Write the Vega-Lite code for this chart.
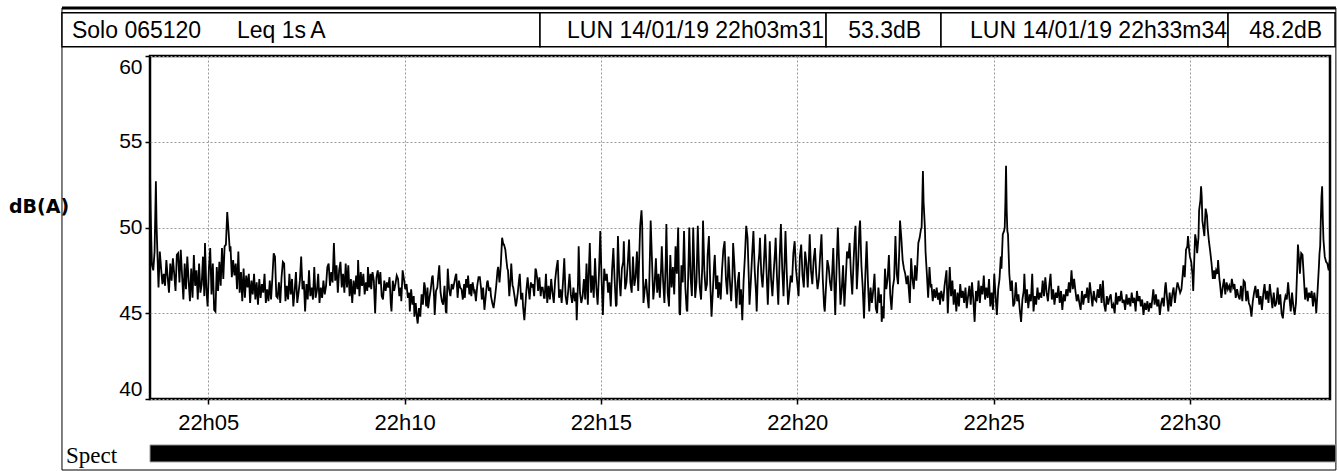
{
"$schema": "https://vega.github.io/schema/vega-lite/v6.json",
"width": 1180,
"height": 343,
"autosize": {"type": "none"},
"padding": {"left": 150, "top": 56, "right": 9, "bottom": 72},
"background": "white",
"config": {
  "font": "Liberation Sans",
  "view": {"stroke": "#000", "strokeWidth": 2.5},
  "axis": {"labelFont": "Liberation Sans", "labelColor": "#000", "domain": false}
},
"layer": [
  {"data": {"values": [{}]}, "mark": {"type": "rect", "fillOpacity": 0, "stroke": "#000", "strokeWidth": 1},
   "encoding": {"x": {"datum": 76.5}, "x2": {"datum": 2023}, "y": {"datum": 62.8}, "y2": {"datum": 35.86}}},
  {"data": {"values": [{}]}, "mark": {"type": "rule", "color": "#000", "strokeWidth": 3},
   "encoding": {"x": {"datum": 76.5}, "x2": {"datum": 2023}, "y": {"datum": 62.8}}},
  {"data": {"values": [{}]}, "mark": {"type": "rect", "fill": "white", "stroke": "#000", "strokeWidth": 1.5},
   "encoding": {"x": {"datum": 76.5}, "x2": {"datum": 806.9}, "y": {"datum": 62.52}, "y2": {"datum": 60.54}}},
  {"data": {"values": [{}]}, "mark": {"type": "rect", "fill": "white", "stroke": "#000", "strokeWidth": 1.5},
   "encoding": {"x": {"datum": 806.9}, "x2": {"datum": 1244}, "y": {"datum": 62.52}, "y2": {"datum": 60.54}}},
  {"data": {"values": [{}]}, "mark": {"type": "rect", "fill": "white", "stroke": "#000", "strokeWidth": 1.5},
   "encoding": {"x": {"datum": 1244}, "x2": {"datum": 1419.6}, "y": {"datum": 62.52}, "y2": {"datum": 60.54}}},
  {"data": {"values": [{}]}, "mark": {"type": "rect", "fill": "white", "stroke": "#000", "strokeWidth": 1.5},
   "encoding": {"x": {"datum": 1419.6}, "x2": {"datum": 1858.2}, "y": {"datum": 62.52}, "y2": {"datum": 60.54}}},
  {"data": {"values": [{}]}, "mark": {"type": "rect", "fill": "white", "stroke": "#000", "strokeWidth": 1.5},
   "encoding": {"x": {"datum": 1858.2}, "x2": {"datum": 2021.7}, "y": {"datum": 62.52}, "y2": {"datum": 60.54}}},
  {"data": {"values": [{"label": "Solo 065120"}]}, "mark": {"type": "text", "align": "left", "baseline": "alphabetic", "fontSize": 23, "color": "#000"},
   "encoding": {"x": {"datum": 91.8}, "y": {"datum": 61.03}, "text": {"field": "label"}}},
  {"data": {"values": [{"label": "Leq 1s"}]}, "mark": {"type": "text", "align": "left", "baseline": "alphabetic", "fontSize": 23, "color": "#000"},
   "encoding": {"x": {"datum": 343.9}, "y": {"datum": 61.03}, "text": {"field": "label"}}},
  {"data": {"values": [{"label": "A"}]}, "mark": {"type": "text", "align": "left", "baseline": "alphabetic", "fontSize": 23, "color": "#000"},
   "encoding": {"x": {"datum": 456}, "y": {"datum": 61.03}, "text": {"field": "label"}}},
  {"data": {"values": [{"label": "LUN 14/01/19 22h03m31"}]}, "mark": {"type": "text", "align": "right", "baseline": "alphabetic", "fontSize": 23, "color": "#000"},
   "encoding": {"x": {"datum": 1240.9}, "y": {"datum": 61.03}, "text": {"field": "label"}}},
  {"data": {"values": [{"label": "53.3"}]}, "mark": {"type": "text", "align": "right", "baseline": "alphabetic", "fontSize": 23, "color": "#000"},
   "encoding": {"x": {"datum": 1346.3}, "y": {"datum": 61.03}, "text": {"field": "label"}}},
  {"data": {"values": [{"label": "dB"}]}, "mark": {"type": "text", "align": "left", "baseline": "alphabetic", "fontSize": 23, "color": "#000"},
   "encoding": {"x": {"datum": 1346.3}, "y": {"datum": 61.03}, "text": {"field": "label"}}},
  {"data": {"values": [{"label": "LUN 14/01/19 22h33m34"}]}, "mark": {"type": "text", "align": "right", "baseline": "alphabetic", "fontSize": 23, "color": "#000"},
   "encoding": {"x": {"datum": 1856.7}, "y": {"datum": 61.03}, "text": {"field": "label"}}},
  {"data": {"values": [{"label": "48.2"}]}, "mark": {"type": "text", "align": "right", "baseline": "alphabetic", "fontSize": 23, "color": "#000"},
   "encoding": {"x": {"datum": 1959}, "y": {"datum": 61.03}, "text": {"field": "label"}}},
  {"data": {"values": [{"label": "dB"}]}, "mark": {"type": "text", "align": "left", "baseline": "alphabetic", "fontSize": 23, "color": "#000"},
   "encoding": {"x": {"datum": 1959}, "y": {"datum": 61.03}, "text": {"field": "label"}}},
  {"data": {"values": [{}]}, "mark": {"type": "rect", "fill": "#000", "stroke": "#999", "strokeWidth": 1},
   "encoding": {"x": {"datum": 211}, "x2": {"datum": 2023}, "y": {"datum": 37.32}, "y2": {"datum": 36.33}}},
  {"data": {"values": [{"label": "Spect"}]}, "mark": {"type": "text", "align": "left", "baseline": "alphabetic", "font": "Liberation Serif", "fontSize": 23, "color": "#000"},
   "encoding": {"x": {"datum": 82.6}, "y": {"datum": 36.27}, "text": {"field": "label"}}},
  {
   "data": {"values": [
{"sec":211,"leq":53.3},{"sec":212,"leq":51.0},{"sec":213,"leq":49.2},{"sec":214,"leq":47.8},{"sec":216,"leq":47.5},{"sec":218,"leq":48.6},{"sec":220,"leq":52.7},{"sec":221,"leq":50.2},{"sec":222,"leq":48.9},{"sec":224,"leq":46.5},{"sec":226,"leq":48.6},{"sec":228,"leq":47.6},{"sec":230,"leq":46.7},{"sec":232,"leq":47.3},{"sec":234,"leq":46.6},{"sec":236,"leq":48.1},{"sec":238,"leq":47.1},{"sec":240,"leq":46.2},{"sec":242,"leq":47.9},{"sec":244,"leq":46.9},{"sec":246,"leq":48.2},{"sec":248,"leq":47.3},{"sec":250,"leq":46.3},{"sec":252,"leq":48.4},{"sec":254,"leq":48.5},{"sec":256,"leq":46.8},{"sec":258,"leq":48.7},{"sec":260,"leq":47.2},{"sec":262,"leq":45.8},{"sec":264,"leq":47.9},{"sec":266,"leq":46.4},{"sec":268,"leq":48.3},{"sec":270,"leq":46.9},{"sec":272,"leq":45.7},{"sec":274,"leq":47.6},{"sec":276,"leq":45.9},{"sec":278,"leq":48.4},{"sec":280,"leq":46.6},{"sec":282,"leq":47.5},{"sec":284,"leq":45.8},{"sec":286,"leq":47.9},{"sec":288,"leq":46.2},{"sec":290,"leq":46.7},{"sec":292,"leq":48.3},{"sec":294,"leq":46.0},{"sec":295,"leq":49.1},{"sec":297,"leq":46.5},{"sec":299,"leq":45.4},{"sec":301,"leq":47.6},{"sec":303,"leq":48.8},{"sec":305,"leq":46.1},{"sec":307,"leq":47.9},{"sec":309,"leq":45.2},{"sec":311,"leq":45.1},{"sec":313,"leq":47.7},{"sec":315,"leq":46.3},{"sec":317,"leq":48.0},{"sec":319,"leq":46.6},{"sec":321,"leq":48.8},{"sec":323,"leq":47.0},{"sec":325,"leq":48.9},{"sec":327,"leq":49.0},{"sec":329,"leq":50.9},{"sec":331,"leq":49.8},{"sec":333,"leq":48.6},{"sec":334,"leq":48.9},{"sec":336,"leq":47.1},{"sec":338,"leq":48.1},{"sec":340,"leq":47.2},
{"sec":342,"leq":47.9},{"sec":344,"leq":46.4},{"sec":346,"leq":48.6},{"sec":348,"leq":46.2},{"sec":350,"leq":47.4},{"sec":352,"leq":45.7},{"sec":354,"leq":47.6},{"sec":356,"leq":45.9},{"sec":358,"leq":47.2},{"sec":360,"leq":46.5},{"sec":362,"leq":47.3},{"sec":364,"leq":45.6},{"sec":366,"leq":46.9},{"sec":368,"leq":46.1},{"sec":370,"leq":47.3},{"sec":372,"leq":45.8},{"sec":374,"leq":46.8},{"sec":376,"leq":45.5},{"sec":378,"leq":47.0},{"sec":380,"leq":45.9},{"sec":382,"leq":46.7},{"sec":384,"leq":46.2},{"sec":386,"leq":47.3},{"sec":388,"leq":45.6},{"sec":390,"leq":46.4},{"sec":392,"leq":45.7},{"sec":394,"leq":46.9},{"sec":396,"leq":45.8},{"sec":398,"leq":47.1},{"sec":400,"leq":48.5},{"sec":402,"leq":48.3},{"sec":404,"leq":46.0},{"sec":406,"leq":45.9},{"sec":408,"leq":46.8},{"sec":410,"leq":45.6},{"sec":412,"leq":47.1},{"sec":414,"leq":48.0},{"sec":416,"leq":47.9},{"sec":418,"leq":45.7},{"sec":420,"leq":46.6},{"sec":422,"leq":45.8},{"sec":424,"leq":47.3},{"sec":426,"leq":46.1},{"sec":428,"leq":47.0},{"sec":430,"leq":45.4},{"sec":432,"leq":46.3},{"sec":434,"leq":47.4},{"sec":436,"leq":45.6},{"sec":438,"leq":46.2},{"sec":440,"leq":46.9},{"sec":442,"leq":48.3},{"sec":444,"leq":46.4},{"sec":446,"leq":46.9},{"sec":448,"leq":45.1},{"sec":450,"leq":46.7},{"sec":452,"leq":45.8},{"sec":454,"leq":47.5},{"sec":456,"leq":46.0},{"sec":458,"leq":46.5},{"sec":460,"leq":45.8},{"sec":462,"leq":47.7},{"sec":464,"leq":45.9},{"sec":466,"leq":46.3},{"sec":468,"leq":47.3},{"sec":470,"leq":45.6},{"sec":472,"leq":46.5},{"sec":474,"leq":45.9},{"sec":476,"leq":46.9},{"sec":478,"leq":46.1},{"sec":480,"leq":46.6},{"sec":482,"leq":47.7},{"sec":484,"leq":47.9},{"sec":486,"leq":46.6},{"sec":488,"leq":47.4},{"sec":490,"leq":46.8},{"sec":492,"leq":49.1},{"sec":494,"leq":46.9},{"sec":496,"leq":47.8},{"sec":498,"leq":46.2},{"sec":500,"leq":47.5},{"sec":502,"leq":48.0},{"sec":504,"leq":46.5},{"sec":506,"leq":47.3},{"sec":508,"leq":46.2},{"sec":510,"leq":47.9},{"sec":512,"leq":46.5},{"sec":514,"leq":47.8},
{"sec":516,"leq":46.0},{"sec":518,"leq":47.0},{"sec":520,"leq":45.6},{"sec":522,"leq":46.9},{"sec":524,"leq":46.1},{"sec":526,"leq":47.2},{"sec":528,"leq":46.4},{"sec":529,"leq":48.1},{"sec":531,"leq":46.0},{"sec":533,"leq":47.4},{"sec":535,"leq":46.6},{"sec":537,"leq":47.3},{"sec":539,"leq":46.1},{"sec":541,"leq":46.8},{"sec":543,"leq":46.3},{"sec":544,"leq":47.7},{"sec":546,"leq":46.5},{"sec":548,"leq":47.3},{"sec":549,"leq":46.4},{"sec":551,"leq":47.4},{"sec":553,"leq":46.9},{"sec":555,"leq":45.0},{"sec":557,"leq":47.1},{"sec":559,"leq":47.5},{"sec":561,"leq":46.7},{"sec":563,"leq":47.4},{"sec":565,"leq":46.0},{"sec":567,"leq":45.8},{"sec":569,"leq":46.9},{"sec":571,"leq":46.3},{"sec":573,"leq":46.8},{"sec":575,"leq":46.5},{"sec":577,"leq":47.1},{"sec":579,"leq":45.5},{"sec":580,"leq":45.1},{"sec":582,"leq":46.9},{"sec":584,"leq":46.3},{"sec":586,"leq":46.7},{"sec":588,"leq":47.2},{"sec":590,"leq":47.0},{"sec":592,"leq":46.0},{"sec":594,"leq":46.5},{"sec":595,"leq":45.7},{"sec":597,"leq":47.5},{"sec":599,"leq":47.0},{"sec":601,"leq":46.4},{"sec":603,"leq":46.7},{"sec":605,"leq":45.9},{"sec":607,"leq":46.2},{"sec":608,"leq":45.1},{"sec":610,"leq":46.4},{"sec":612,"leq":45.5},{"sec":614,"leq":46.0},{"sec":615,"leq":44.8},{"sec":617,"leq":45.6},{"sec":619,"leq":44.7},{"sec":620,"leq":44.4},{"sec":622,"leq":45.3},{"sec":624,"leq":44.8},{"sec":626,"leq":46.1},{"sec":628,"leq":45.5},{"sec":630,"leq":46.8},{"sec":631,"leq":46.6},{"sec":633,"leq":45.4},{"sec":635,"leq":46.5},{"sec":636,"leq":45.3},{"sec":638,"leq":45.9},{"sec":640,"leq":46.4},{"sec":642,"leq":47.1},{"sec":643,"leq":47.2},{"sec":645,"leq":46.0},{"sec":646,"leq":44.9},{"sec":648,"leq":46.3},{"sec":650,"leq":46.5},{"sec":652,"leq":47.4},{"sec":653,"leq":47.8},{"sec":655,"leq":46.2},{"sec":657,"leq":45.7},{"sec":659,"leq":45.5},{"sec":661,"leq":46.6},{"sec":663,"leq":45.1},{"sec":664,"leq":45.0},{"sec":666,"leq":47.6},{"sec":668,"leq":46.4},{"sec":670,"leq":46.0},{"sec":672,"leq":46.7},{"sec":674,"leq":46.4},{"sec":676,"leq":46.8},{"sec":678,"leq":47.2},{"sec":679,"leq":47.3},{"sec":681,"leq":45.9},{"sec":683,"leq":46.9},{"sec":685,"leq":46.5},{"sec":687,"leq":46.4},{"sec":689,"leq":45.8},{"sec":691,"leq":46.7},{"sec":692,"leq":45.9},{"sec":694,"leq":47.0},{"sec":696,"leq":46.5},{"sec":697,"leq":47.2},{"sec":699,"leq":46.1},{"sec":701,"leq":46.7},{"sec":702,"leq":46.0},{"sec":704,"leq":46.8},{"sec":706,"leq":46.3},{"sec":707,"leq":46.4},{"sec":709,"leq":45.7},{"sec":711,"leq":46.6},{"sec":713,"leq":47.1},{"sec":715,"leq":47.1},{"sec":717,"leq":46.4},{"sec":718,"leq":45.8},{"sec":720,"leq":46.5},{"sec":722,"leq":45.2},{"sec":724,"leq":46.0},{"sec":726,"leq":46.8},{"sec":727,"leq":46.9},{"sec":729,"leq":46.3},{"sec":731,"leq":46.5},{"sec":732,"leq":46.0},{"sec":734,"leq":45.6},{"sec":736,"leq":45.3},{"sec":738,"leq":45.9},{"sec":740,"leq":46.6},{"sec":742,"leq":47.5},{"sec":743,"leq":47.7},{"sec":745,"leq":46.8},{"sec":747,"leq":47.8},{"sec":749,"leq":49.4},{"sec":751,"leq":49.0},{"sec":752,"leq":49.0},{"sec":754,"leq":48.7},{"sec":755,"leq":48.3},{"sec":757,"leq":47.6},{"sec":758,"leq":47.5},{"sec":760,"leq":46.0},{"sec":762,"leq":47.1},{"sec":763,"leq":47.9},{"sec":765,"leq":46.6},{"sec":766,"leq":46.5},{"sec":768,"leq":46.0},{"sec":770,"leq":45.4},{"sec":771,"leq":45.6},{"sec":773,"leq":46.2},{"sec":775,"leq":47.0},{"sec":776,"leq":47.3},{"sec":778,"leq":45.8},{"sec":780,"leq":46.2},{"sec":781,"leq":45.4},{"sec":783,"leq":44.6},{"sec":785,"leq":45.7},{"sec":786,"leq":46.3},{"sec":788,"leq":47.1},{"sec":790,"leq":46.2},{"sec":791,"leq":45.8},{"sec":793,"leq":46.8},{"sec":794,"leq":46.5},{"sec":796,"leq":46.7},{"sec":798,"leq":46.0},{"sec":800,"leq":47.6},{"sec":801,"leq":47.5},{"sec":803,"leq":46.9},{"sec":804,"leq":46.3},{"sec":806,"leq":47.1},{"sec":808,"leq":46.0},{"sec":809,"leq":46.5},{"sec":811,"leq":46.5},{"sec":813,"leq":45.9},{"sec":814,"leq":45.9},{"sec":816,"leq":47.3},{"sec":818,"leq":45.6},
{"sec":820,"leq":46.6},{"sec":822,"leq":45.8},{"sec":824,"leq":47.0},{"sec":826,"leq":46.2},{"sec":828,"leq":45.6},{"sec":830,"leq":46.9},{"sec":832,"leq":47.6},{"sec":834,"leq":48.1},{"sec":836,"leq":45.9},{"sec":838,"leq":46.4},{"sec":840,"leq":45.6},{"sec":842,"leq":46.8},{"sec":844,"leq":48.2},{"sec":846,"leq":46.0},{"sec":848,"leq":45.5},{"sec":850,"leq":46.3},{"sec":852,"leq":47.3},{"sec":854,"leq":46.1},{"sec":856,"leq":45.6},{"sec":858,"leq":46.5},{"sec":860,"leq":45.7},{"sec":862,"leq":46.2},{"sec":863,"leq":44.6},{"sec":865,"leq":46.8},{"sec":866,"leq":48.9},{"sec":868,"leq":46.2},{"sec":870,"leq":45.6},{"sec":872,"leq":46.0},{"sec":874,"leq":47.0},{"sec":876,"leq":45.8},{"sec":878,"leq":47.9},{"sec":880,"leq":45.5},{"sec":882,"leq":48.0},{"sec":883,"leq":49.1},{"sec":885,"leq":46.2},{"sec":887,"leq":47.2},{"sec":889,"leq":45.9},{"sec":891,"leq":48.2},{"sec":893,"leq":46.5},{"sec":895,"leq":45.5},{"sec":897,"leq":47.3},{"sec":899,"leq":49.8},{"sec":901,"leq":47.0},{"sec":903,"leq":44.9},{"sec":905,"leq":47.6},{"sec":907,"leq":46.9},{"sec":909,"leq":47.3},{"sec":911,"leq":46.2},{"sec":913,"leq":46.8},{"sec":915,"leq":45.4},{"sec":917,"leq":47.5},{"sec":919,"leq":48.8},{"sec":921,"leq":46.9},{"sec":923,"leq":45.4},{"sec":924,"leq":45.5},{"sec":926,"leq":49.5},{"sec":928,"leq":47.1},{"sec":930,"leq":46.0},{"sec":932,"leq":47.6},{"sec":934,"leq":48.0},{"sec":935,"leq":49.2},{"sec":937,"leq":46.4},{"sec":939,"leq":46.8},{"sec":941,"leq":47.9},{"sec":943,"leq":49.3},{"sec":945,"leq":46.8},{"sec":947,"leq":46.2},{"sec":949,"leq":48.3},{"sec":951,"leq":46.6},{"sec":953,"leq":47.1},{"sec":955,"leq":48.6},{"sec":957,"leq":46.3},{"sec":958,"leq":47.6},{"sec":960,"leq":50.1},{"sec":962,"leq":51.0},{"sec":963,"leq":50.2},{"sec":965,"leq":45.6},{"sec":967,"leq":46.4},{"sec":969,"leq":47.0},{"sec":971,"leq":46.0},{"sec":973,"leq":45.3},{"sec":975,"leq":48.6},{"sec":976,"leq":50.4},{"sec":978,"leq":48.1},{"sec":980,"leq":45.8},{"sec":982,"leq":46.7},{"sec":984,"leq":48.2},{"sec":986,"leq":46.2},{"sec":988,"leq":47.3},{"sec":990,"leq":45.9},{"sec":992,"leq":47.7},{"sec":993,"leq":48.9},{"sec":995,"leq":46.9},{"sec":997,"leq":45.6},{"sec":999,"leq":48.0},{"sec":1000,"leq":50.2},{"sec":1002,"leq":46.2},{"sec":1004,"leq":45.4},{"sec":1006,"leq":48.4},{"sec":1008,"leq":46.5},{"sec":1010,"leq":47.7},{"sec":1012,"leq":46.1},{"sec":1014,"leq":48.9},{"sec":1016,"leq":47.3},{"sec":1018,"leq":50.0},{"sec":1020,"leq":45.0},{"sec":1021,"leq":44.9},{"sec":1023,"leq":47.8},{"sec":1025,"leq":46.8},{"sec":1027,"leq":49.8},{"sec":1029,"leq":46.5},{"sec":1031,"leq":45.2},{"sec":1032,"leq":45.1},{"sec":1034,"leq":48.2},{"sec":1035,"leq":50.0},{"sec":1037,"leq":47.1},{"sec":1039,"leq":46.0},{"sec":1041,"leq":50.0},{"sec":1043,"leq":47.2},{"sec":1044,"leq":45.9},{"sec":1046,"leq":46.8},{"sec":1048,"leq":50.1},{"sec":1050,"leq":47.4},{"sec":1051,"leq":46.5},{"sec":1053,"leq":45.8},{"sec":1055,"leq":47.9},{"sec":1056,"leq":50.4},{"sec":1058,"leq":47.5},{"sec":1060,"leq":46.3},{"sec":1062,"leq":46.7},{"sec":1063,"leq":48.4},{"sec":1065,"leq":49.5},{"sec":1067,"leq":46.8},{"sec":1069,"leq":44.8},{"sec":1071,"leq":46.3},{"sec":1073,"leq":47.9},{"sec":1074,"leq":48.4},{"sec":1076,"leq":46.4},{"sec":1078,"leq":47.2},{"sec":1079,"leq":45.9},{"sec":1081,"leq":46.8},{"sec":1083,"leq":45.8},{"sec":1085,"leq":47.5},{"sec":1087,"leq":48.7},{"sec":1089,"leq":49.2},{"sec":1091,"leq":47.0},{"sec":1093,"leq":46.1},{"sec":1095,"leq":48.3},{"sec":1097,"leq":46.9},{"sec":1099,"leq":45.7},{"sec":1101,"leq":47.2},{"sec":1102,"leq":49.1},{"sec":1104,"leq":47.8},{"sec":1106,"leq":46.0},{"sec":1107,"leq":45.3},{"sec":1109,"leq":46.8},{"sec":1111,"leq":47.4},{"sec":1112,"leq":45.5},{"sec":1114,"leq":46.4},{"sec":1116,"leq":44.6},{"sec":1118,"leq":46.9},{"sec":1120,"leq":48.3},{"sec":1122,"leq":50.1},{"sec":1124,"leq":49.4},
{"sec":1126,"leq":47.0},{"sec":1127,"leq":45.5},{"sec":1129,"leq":46.8},{"sec":1131,"leq":48.4},{"sec":1133,"leq":49.8},{"sec":1135,"leq":47.5},{"sec":1137,"leq":46.2},{"sec":1138,"leq":45.1},{"sec":1140,"leq":47.6},{"sec":1142,"leq":48.5},{"sec":1143,"leq":49.4},{"sec":1145,"leq":47.3},{"sec":1147,"leq":46.5},{"sec":1149,"leq":47.9},{"sec":1151,"leq":49.6},{"sec":1153,"leq":47.5},{"sec":1155,"leq":45.5},{"sec":1157,"leq":47.8},{"sec":1158,"leq":49.2},{"sec":1160,"leq":47.0},{"sec":1162,"leq":46.0},{"sec":1164,"leq":47.4},{"sec":1166,"leq":48.6},{"sec":1167,"leq":49.4},{"sec":1169,"leq":47.1},{"sec":1171,"leq":45.5},{"sec":1173,"leq":48.1},{"sec":1175,"leq":50.2},{"sec":1177,"leq":47.6},{"sec":1179,"leq":46.0},{"sec":1181,"leq":48.5},{"sec":1182,"leq":49.8},{"sec":1184,"leq":47.3},{"sec":1186,"leq":45.5},{"sec":1188,"leq":46.3},{"sec":1190,"leq":47.2},{"sec":1192,"leq":46.8},{"sec":1194,"leq":48.5},{"sec":1196,"leq":49.2},{"sec":1198,"leq":47.6},{"sec":1200,"leq":46.8},{"sec":1202,"leq":46.0},{"sec":1204,"leq":48.3},{"sec":1206,"leq":49.0},{"sec":1208,"leq":47.2},{"sec":1210,"leq":46.5},{"sec":1212,"leq":48.6},{"sec":1214,"leq":47.9},{"sec":1216,"leq":46.5},{"sec":1218,"leq":48.4},{"sec":1219,"leq":49.6},{"sec":1221,"leq":47.5},{"sec":1223,"leq":46.7},{"sec":1225,"leq":48.1},{"sec":1227,"leq":48.8},{"sec":1229,"leq":47.3},{"sec":1231,"leq":46.4},{"sec":1233,"leq":47.0},{"sec":1235,"leq":48.4},{"sec":1237,"leq":49.6},{"sec":1239,"leq":47.0},{"sec":1241,"leq":45.4},{"sec":1242,"leq":45.1},{"sec":1244,"leq":46.6},{"sec":1246,"leq":48.1},{"sec":1248,"leq":47.7},{"sec":1250,"leq":46.8},{"sec":1252,"leq":46.3},{"sec":1254,"leq":47.9},{"sec":1255,"leq":48.8},{"sec":1257,"leq":46.2},{"sec":1258,"leq":44.9},{"sec":1260,"leq":47.6},{"sec":1262,"leq":50.0},{"sec":1264,"leq":47.8},{"sec":1266,"leq":45.5},{"sec":1268,"leq":46.4},{"sec":1270,"leq":47.8},{"sec":1272,"leq":45.4},{"sec":1274,"leq":46.9},{"sec":1276,"leq":48.6},{"sec":1278,"leq":48.2},{"sec":1280,"leq":49.1},{"sec":1282,"leq":47.3},{"sec":1284,"leq":46.1},{"sec":1286,"leq":48.0},{"sec":1288,"leq":49.6},{"sec":1289,"leq":50.1},{"sec":1291,"leq":46.4},{"sec":1293,"leq":47.9},{"sec":1295,"leq":50.0},{"sec":1296,"leq":50.4},{"sec":1298,"leq":47.8},{"sec":1300,"leq":46.5},{"sec":1302,"leq":44.7},{"sec":1304,"leq":47.2},{"sec":1306,"leq":49.2},{"sec":1308,"leq":46.8},{"sec":1310,"leq":45.1},{"sec":1312,"leq":46.5},{"sec":1314,"leq":45.6},{"sec":1316,"leq":46.3},{"sec":1318,"leq":47.3},{"sec":1320,"leq":45.3},{"sec":1322,"leq":45.0},{"sec":1324,"leq":46.5},{"sec":1326,"leq":45.6},{"sec":1328,"leq":46.1},{"sec":1329,"leq":44.5},{"sec":1331,"leq":45.4},{"sec":1332,"leq":44.7},{"sec":1334,"leq":47.6},{"sec":1336,"leq":46.4},{"sec":1338,"leq":47.0},{"sec":1340,"leq":48.4},{"sec":1342,"leq":46.1},{"sec":1344,"leq":45.2},{"sec":1346,"leq":46.5},{"sec":1348,"leq":47.0},{"sec":1350,"leq":49.5},{"sec":1352,"leq":47.3},{"sec":1354,"leq":46.7},{"sec":1356,"leq":48.8},{"sec":1357,"leq":50.4},{"sec":1359,"leq":49.4},{"sec":1361,"leq":48.1},{"sec":1363,"leq":47.6},{"sec":1365,"leq":47.3},{"sec":1367,"leq":46.7},{"sec":1369,"leq":47.2},{"sec":1370,"leq":46.6},{"sec":1372,"leq":45.6},{"sec":1374,"leq":48.2},{"sec":1376,"leq":47.0},{"sec":1378,"leq":46.4},{"sec":1380,"leq":47.8},{"sec":1382,"leq":46.9},{"sec":1383,"leq":47.5},{"sec":1385,"leq":49.1},{"sec":1387,"leq":49.4},{"sec":1389,"leq":49.9},{"sec":1390,"leq":50.0},{"sec":1391,"leq":51.5},{"sec":1392,"leq":53.3},{"sec":1393,"leq":51.5},{"sec":1395,"leq":50.0},{"sec":1396,"leq":48.6},{"sec":1398,"leq":47.3},{"sec":1400,"leq":45.9},{"sec":1402,"leq":47.7},{"sec":1404,"leq":46.5},{"sec":1405,"leq":46.7},{"sec":1407,"leq":45.7},{"sec":1409,"leq":46.4},{"sec":1411,"leq":45.9},{"sec":1413,"leq":46.5},{"sec":1415,"leq":45.8},{"sec":1417,"leq":46.2},{"sec":1418,"leq":45.5},{"sec":1420,"leq":46.3},{"sec":1422,"leq":45.9},{"sec":1423,"leq":45.7},{"sec":1425,"leq":46.6},{"sec":1427,"leq":47.2},{"sec":1428,"leq":47.5},{"sec":1430,"leq":45.0},
{"sec":1433,"leq":47.7},{"sec":1435,"leq":46.0},{"sec":1437,"leq":46.9},{"sec":1439,"leq":45.5},{"sec":1441,"leq":46.4},{"sec":1443,"leq":45.1},{"sec":1445,"leq":46.2},{"sec":1447,"leq":45.4},{"sec":1449,"leq":46.7},{"sec":1451,"leq":45.9},{"sec":1453,"leq":46.3},{"sec":1455,"leq":45.6},{"sec":1457,"leq":46.5},{"sec":1459,"leq":45.3},{"sec":1461,"leq":46.0},{"sec":1463,"leq":46.6},{"sec":1465,"leq":45.5},{"sec":1467,"leq":46.8},{"sec":1469,"leq":45.8},{"sec":1471,"leq":44.5},{"sec":1473,"leq":46.3},{"sec":1475,"leq":45.7},{"sec":1477,"leq":46.9},{"sec":1479,"leq":45.6},{"sec":1481,"leq":46.6},{"sec":1483,"leq":46.1},{"sec":1485,"leq":47.2},{"sec":1487,"leq":45.8},{"sec":1489,"leq":46.5},{"sec":1491,"leq":45.9},{"sec":1493,"leq":47.0},{"sec":1495,"leq":45.4},{"sec":1497,"leq":46.2},{"sec":1499,"leq":45.2},{"sec":1501,"leq":47.3},{"sec":1503,"leq":46.0},{"sec":1505,"leq":44.9},{"sec":1507,"leq":46.4},{"sec":1509,"leq":47.0},{"sec":1511,"leq":48.3},{"sec":1512,"leq":47.6},{"sec":1514,"leq":49.6},{"sec":1516,"leq":49.8},{"sec":1517,"leq":50.0},{"sec":1518,"leq":51.5},{"sec":1519,"leq":53.6},{"sec":1520,"leq":51.0},{"sec":1521,"leq":49.8},{"sec":1522,"leq":49.6},{"sec":1524,"leq":47.3},{"sec":1526,"leq":46.3},{"sec":1528,"leq":46.9},{"sec":1530,"leq":45.4},{"sec":1532,"leq":45.6},{"sec":1534,"leq":46.8},{"sec":1536,"leq":45.7},{"sec":1538,"leq":46.1},{"sec":1540,"leq":45.2},{"sec":1542,"leq":44.5},{"sec":1544,"leq":45.8},{"sec":1546,"leq":46.3},{"sec":1547,"leq":47.3},{"sec":1549,"leq":45.6},{"sec":1551,"leq":46.4},{"sec":1553,"leq":45.3},{"sec":1555,"leq":46.1},{"sec":1557,"leq":45.7},{"sec":1559,"leq":47.3},{"sec":1561,"leq":45.1},{"sec":1563,"leq":46.0},{"sec":1565,"leq":45.5},{"sec":1567,"leq":46.5},{"sec":1569,"leq":45.8},{"sec":1571,"leq":46.2},{"sec":1573,"leq":45.9},{"sec":1575,"leq":46.9},{"sec":1577,"leq":46.0},{"sec":1579,"leq":47.1},{"sec":1581,"leq":46.2},{"sec":1583,"leq":45.7},{"sec":1585,"leq":46.6},{"sec":1587,"leq":47.3},{"sec":1589,"leq":45.8},{"sec":1591,"leq":46.4},{"sec":1593,"leq":45.5},{"sec":1595,"leq":46.2},{"sec":1597,"leq":45.9},{"sec":1599,"leq":46.6},{"sec":1601,"leq":45.6},{"sec":1603,"leq":46.3},{"sec":1605,"leq":45.2},{"sec":1607,"leq":46.1},{"sec":1609,"leq":45.7},{"sec":1611,"leq":46.4},{"sec":1613,"leq":46.0},{"sec":1615,"leq":46.8},{"sec":1617,"leq":46.2},{"sec":1619,"leq":47.5},{"sec":1621,"leq":46.4},{"sec":1623,"leq":47.0},{"sec":1625,"leq":46.3},{"sec":1627,"leq":45.7},{"sec":1629,"leq":46.1},{"sec":1631,"leq":45.6},{"sec":1633,"leq":45.2},{"sec":1635,"leq":46.3},{"sec":1637,"leq":45.5},{"sec":1639,"leq":46.1},{"sec":1641,"leq":45.9},{"sec":1643,"leq":46.5},{"sec":1645,"leq":45.6},{"sec":1647,"leq":46.8},{"sec":1649,"leq":46.1},{"sec":1651,"leq":45.4},{"sec":1653,"leq":46.3},{"sec":1655,"leq":45.8},{"sec":1657,"leq":45.7},{"sec":1659,"leq":46.4},{"sec":1661,"leq":45.9},{"sec":1663,"leq":46.7},{"sec":1665,"leq":45.6},{"sec":1667,"leq":46.9},{"sec":1669,"leq":45.5},{"sec":1671,"leq":45.1},{"sec":1673,"leq":46.0},{"sec":1675,"leq":45.5},{"sec":1677,"leq":45.9},{"sec":1679,"leq":46.1},{"sec":1681,"leq":45.3},{"sec":1683,"leq":45.5},{"sec":1685,"leq":45.0},{"sec":1687,"leq":46.2},{"sec":1689,"leq":45.5},{"sec":1691,"leq":46.0},{"sec":1693,"leq":45.7},{"sec":1695,"leq":46.3},{"sec":1697,"leq":45.6},{"sec":1699,"leq":45.8},{"sec":1701,"leq":45.2},{"sec":1703,"leq":46.1},{"sec":1705,"leq":45.5},{"sec":1707,"leq":45.9},{"sec":1709,"leq":45.4},{"sec":1711,"leq":46.2},{"sec":1713,"leq":45.6},{"sec":1715,"leq":45.9},{"sec":1717,"leq":45.1},{"sec":1719,"leq":46.3},{"sec":1721,"leq":45.7},{"sec":1723,"leq":46.0},{"sec":1725,"leq":45.4},{"sec":1727,"leq":45.8},{"sec":1729,"leq":44.9},{"sec":1731,"leq":45.6},{"sec":1733,"leq":45.2},
{"sec":1735,"leq":45.7},{"sec":1737,"leq":45.1},{"sec":1739,"leq":45.6},{"sec":1741,"leq":45.3},{"sec":1743,"leq":46.0},{"sec":1744,"leq":46.4},{"sec":1746,"leq":45.5},{"sec":1748,"leq":46.1},{"sec":1750,"leq":45.4},{"sec":1752,"leq":45.8},{"sec":1754,"leq":44.9},{"sec":1756,"leq":45.6},{"sec":1758,"leq":45.9},{"sec":1760,"leq":45.4},{"sec":1762,"leq":46.5},{"sec":1763,"leq":46.8},{"sec":1765,"leq":45.9},{"sec":1767,"leq":45.1},{"sec":1769,"leq":46.2},{"sec":1771,"leq":45.4},{"sec":1773,"leq":46.1},{"sec":1775,"leq":46.5},{"sec":1777,"leq":45.6},{"sec":1779,"leq":46.3},{"sec":1781,"leq":46.8},{"sec":1783,"leq":46.5},{"sec":1785,"leq":46.2},{"sec":1787,"leq":46.4},{"sec":1789,"leq":47.3},{"sec":1790,"leq":47.8},{"sec":1792,"leq":47.1},{"sec":1794,"leq":48.7},{"sec":1796,"leq":48.9},{"sec":1797,"leq":49.5},{"sec":1799,"leq":48.6},{"sec":1800,"leq":48.3},{"sec":1802,"leq":48.0},{"sec":1804,"leq":47.2},{"sec":1805,"leq":46.3},{"sec":1807,"leq":48.6},{"sec":1808,"leq":49.6},{"sec":1810,"leq":49.1},{"sec":1811,"leq":48.5},{"sec":1813,"leq":49.4},{"sec":1814,"leq":51.0},{"sec":1816,"leq":51.6},{"sec":1817,"leq":52.4},{"sec":1818,"leq":51.8},{"sec":1819,"leq":50.4},{"sec":1821,"leq":49.8},{"sec":1822,"leq":49.5},{"sec":1823,"leq":50.4},{"sec":1824,"leq":51.1},{"sec":1826,"leq":50.7},{"sec":1827,"leq":50.0},{"sec":1829,"leq":49.2},{"sec":1831,"leq":48.6},{"sec":1833,"leq":47.9},{"sec":1835,"leq":47.0},{"sec":1837,"leq":47.5},{"sec":1838,"leq":47.0},{"sec":1840,"leq":47.5},{"sec":1842,"leq":47.3},{"sec":1843,"leq":48.1},{"sec":1845,"leq":47.0},{"sec":1846,"leq":46.7},{"sec":1848,"leq":45.9},{"sec":1850,"leq":46.5},{"sec":1852,"leq":47.0},{"sec":1854,"leq":46.1},{"sec":1856,"leq":46.8},{"sec":1858,"leq":46.4},{"sec":1860,"leq":46.6},{"sec":1862,"leq":46.2},{"sec":1864,"leq":47.0},{"sec":1866,"leq":46.5},{"sec":1868,"leq":46.7},{"sec":1870,"leq":45.9},{"sec":1872,"leq":46.4},{"sec":1874,"leq":46.0},{"sec":1876,"leq":45.8},{"sec":1878,"leq":46.6},{"sec":1880,"leq":45.7},{"sec":1882,"leq":46.9},{"sec":1884,"leq":46.8},{"sec":1886,"leq":45.7},{"sec":1888,"leq":46.3},{"sec":1890,"leq":45.6},{"sec":1892,"leq":45.4},{"sec":1894,"leq":44.8},{"sec":1896,"leq":45.7},{"sec":1898,"leq":46.2},{"sec":1900,"leq":46.6},{"sec":1902,"leq":45.9},{"sec":1904,"leq":46.4},{"sec":1906,"leq":45.5},{"sec":1908,"leq":46.0},{"sec":1910,"leq":45.2},{"sec":1912,"leq":46.1},{"sec":1914,"leq":46.7},{"sec":1916,"leq":45.8},{"sec":1918,"leq":46.3},{"sec":1920,"leq":45.6},{"sec":1922,"leq":46.7},{"sec":1924,"leq":46.0},{"sec":1926,"leq":45.3},{"sec":1928,"leq":46.2},{"sec":1930,"leq":45.4},{"sec":1932,"leq":45.6},{"sec":1934,"leq":46.5},{"sec":1936,"leq":45.5},{"sec":1938,"leq":46.1},{"sec":1940,"leq":45.0},{"sec":1942,"leq":44.7},{"sec":1944,"leq":45.6},{"sec":1946,"leq":46.0},{"sec":1948,"leq":45.8},{"sec":1950,"leq":46.8},{"sec":1952,"leq":45.9},{"sec":1954,"leq":45.1},{"sec":1956,"leq":46.2},{"sec":1958,"leq":45.4},{"sec":1960,"leq":44.9},{"sec":1962,"leq":45.6},{"sec":1964,"leq":47.7},{"sec":1965,"leq":49.0},{"sec":1967,"leq":48.0},{"sec":1968,"leq":47.3},{"sec":1970,"leq":48.5},{"sec":1972,"leq":48.4},{"sec":1974,"leq":47.1},{"sec":1976,"leq":45.8},{"sec":1978,"leq":46.5},{"sec":1980,"leq":45.7},{"sec":1982,"leq":46.2},{"sec":1984,"leq":45.9},{"sec":1986,"leq":46.3},{"sec":1988,"leq":45.4},{"sec":1990,"leq":46.2},{"sec":1992,"leq":45.6},{"sec":1993,"leq":45.0},{"sec":1995,"leq":46.3},{"sec":1997,"leq":47.7},{"sec":1998,"leq":48.5},{"sec":1999,"leq":48.9},{"sec":2000,"leq":50.5},{"sec":2001,"leq":51.8},{"sec":2002,"leq":52.4},{"sec":2003,"leq":50.5},{"sec":2004,"leq":49.3},{"sec":2006,"leq":48.3},{"sec":2008,"leq":48.0},{"sec":2010,"leq":47.9},{"sec":2012,"leq":47.5},{"sec":2014,"leq":48.2}
   ]},
   "mark": {"type": "line", "color": "#000", "strokeWidth": 1.8, "interpolate": "linear"},
   "encoding": {
     "x": {"field": "sec", "type": "quantitative",
           "scale": {"domain": [211, 2014], "nice": false, "zero": false},
           "axis": {"values": [300, 600, 900, 1200, 1500, 1800],
                    "labelExpr": "'22h' + (datum.value < 600 ? '0' : '') + (datum.value / 60)",
                    "title": null, "grid": true, "gridColor": "#999", "gridDash": [2, 2], "gridWidth": 1,
                    "ticks": true, "tickColor": "#000", "tickSize": 5, "tickWidth": 1.5,
                    "labelFontSize": 22, "labelPadding": 8, "labelFlush": false}},
     "y": {"field": "leq", "type": "quantitative",
           "scale": {"domain": [40, 60], "nice": false, "zero": false},
           "axis": {"values": [40, 45, 50, 55, 60],
                    "title": "dB(A)", "titleAngle": 0, "titleX": -111.5, "titleY": 150,
                    "titleAlign": "center", "titleBaseline": "middle",
                    "titleFont": "DejaVu Sans", "titleFontSize": 19, "titleFontWeight": "bold", "titleColor": "#000",
                    "grid": true, "gridColor": "#999", "gridDash": [2, 2], "gridWidth": 1,
                    "ticks": true, "tickColor": "#000", "tickSize": 5, "tickWidth": 1.5,
                    "labelFontSize": 21, "labelPadding": 3, "labelFlush": true}}
   }
  }
]
}
